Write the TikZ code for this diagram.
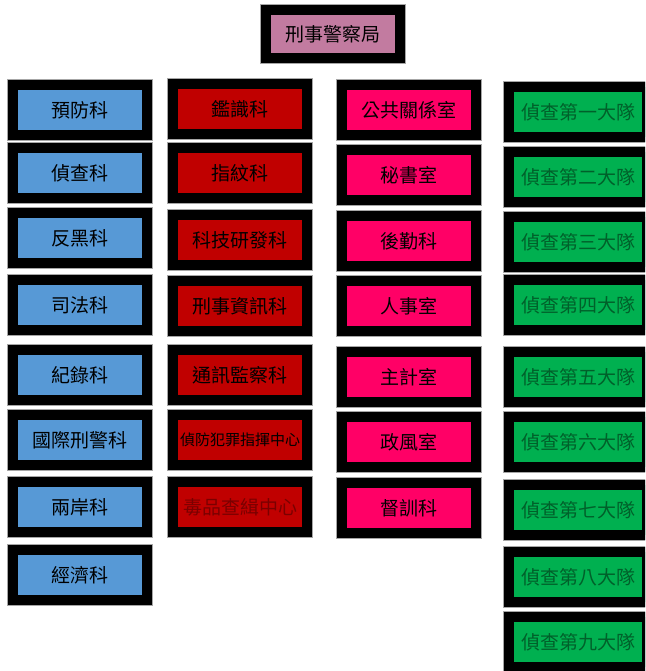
\documentclass[tikz,border=0pt]{standalone}
\usepackage{fontspec}
\newfontfamily\cjk{Noto Sans CJK TC}
\definecolor{cblue}{HTML}{5799D6}
\definecolor{cred}{HTML}{C00000}
\definecolor{cpink}{HTML}{FF0066}
\definecolor{cgreen}{HTML}{00B050}
\definecolor{ctop}{HTML}{C27BA0}
\definecolor{tgreen}{HTML}{00602A}
\definecolor{tdred}{HTML}{7A0000}
\begin{document}
\begin{tikzpicture}[x=1pt,y=-1pt,
  unit/.style={draw=black, line width=10pt, inner sep=0pt, outer sep=0pt,
    minimum width=134pt, minimum height=50pt,
    preaction={draw=black!35, line width=11.5pt},
    font=\cjk\fontsize{19}{19}\selectfont},
  topbox/.style={unit, fill=ctop},
  bluebox/.style={unit, fill=cblue},
  redbox/.style={unit, fill=cred},
  pinkbox/.style={unit, fill=cpink},
  greenbox/.style={unit, fill=cgreen, minimum width=138pt, text=tgreen}]
\useasboundingbox (0,0) rectangle (645,671);
\fill[white] (0,0) rectangle (645,671);
\begin{scope}
\clip (0,0) rectangle (645,671);
\node[topbox, minimum height=48pt] (top) at (333,34) {刑事警察局};

\node[bluebox] (b1) at (80,110) {預防科};
\node[bluebox] (b2) at (80,173) {偵查科};
\node[bluebox] (b3) at (80,238) {反黑科};
\node[bluebox] (b4) at (80,305) {司法科};
\node[bluebox] (b5) at (80,375) {紀錄科};
\node[bluebox] (b6) at (80,440) {國際刑警科};
\node[bluebox] (b7) at (80,507) {兩岸科};
\node[bluebox] (b8) at (80,575) {經濟科};

\node[redbox] (r1) at (240,109) {鑑識科};
\node[redbox] (r2) at (240,173) {指紋科};
\node[redbox] (r3) at (240,240) {科技研發科};
\node[redbox] (r4) at (240,306) {刑事資訊科};
\node[redbox] (r5) at (240,375) {通訊監察科};
\node[redbox, font=\cjk\fontsize{15}{15}\selectfont] (r6) at (240,440) {偵防犯罪指揮中心};
\node[redbox, text=tdred] (r7) at (240,507) {毒品查緝中心};

\node[pinkbox] (p1) at (409,110) {公共關係室};
\node[pinkbox] (p2) at (409,175) {秘書室};
\node[pinkbox] (p3) at (409,241) {後勤科};
\node[pinkbox] (p4) at (409,306) {人事室};
\node[pinkbox] (p5) at (409,377) {主計室};
\node[pinkbox] (p6) at (409,442) {政風室};
\node[pinkbox] (p7) at (409,508) {督訓科};

\node[greenbox] (g1) at (578,112) {偵查第一大隊};
\node[greenbox] (g2) at (578,177) {偵查第二大隊};
\node[greenbox] (g3) at (578,242) {偵查第三大隊};
\node[greenbox] (g4) at (578,305) {偵查第四大隊};
\node[greenbox] (g5) at (578,377) {偵查第五大隊};
\node[greenbox] (g6) at (578,442) {偵查第六大隊};
\node[greenbox] (g7) at (578,510) {偵查第七大隊};
\node[greenbox] (g8) at (578,577) {偵查第八大隊};
\node[greenbox] (g9) at (578,642) {偵查第九大隊};
\end{scope}
\end{tikzpicture}
\end{document}
